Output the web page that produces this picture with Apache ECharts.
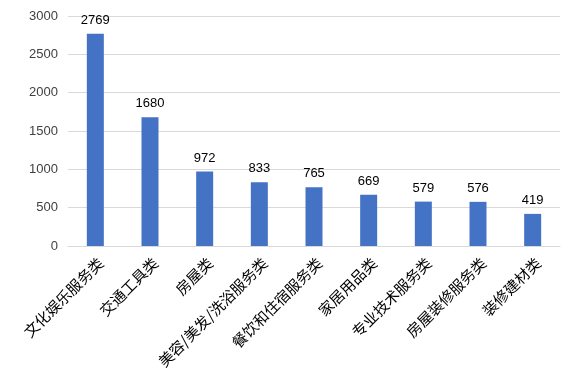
<!DOCTYPE html>
<html><head><meta charset="utf-8">
<script src="https://cdn.jsdelivr.net/npm/echarts@6/dist/echarts.min.js"></script>
<style>html,body{margin:0;padding:0;background:#fff}#c{width:577px;height:383px}</style>
</head><body><div id="c"></div>
<script>
const categories = ['文化娱乐服务类','交通工具类','房屋类','美容/美发/洗浴服务类','餐饮和住宿服务类','家居用品类','专业技术服务类','房屋装修服务类','装修建材类'];
const values = [2769,1680,972,833,765,669,579,576,419];
const yTicks = [0,500,1000,1500,2000,2500,3000];
const chart = echarts.init(document.getElementById('c'));
chart.setOption({
  animation:false,
  grid:{left:68,right:17,top:16,bottom:137,containLabel:false},
  xAxis:{type:'category',data:categories,
    axisLine:{lineStyle:{color:'#d9d9d9'}},axisTick:{show:false},
    axisLabel:{rotate:45,interval:0,color:'#000',fontSize:15,fontFamily:'Noto Sans CJK SC',margin:9,verticalAlign:'top'}},
  yAxis:{type:'value',min:yTicks[0],max:yTicks[yTicks.length-1],interval:yTicks[1]-yTicks[0],
    axisLine:{show:false},axisTick:{show:false},
    splitLine:{lineStyle:{color:'#d9d9d9'}},
    axisLabel:{color:'#404040',fontSize:13,fontFamily:'Liberation Sans',margin:10,formatter:v=>String(v)}},
  series:[{type:'bar',data:values,barWidth:17,itemStyle:{color:'#4472C4'},
    label:{show:true,position:'top',color:'#000',fontSize:13,fontFamily:'Liberation Sans',distance:7}}]
});
</script></body></html>
